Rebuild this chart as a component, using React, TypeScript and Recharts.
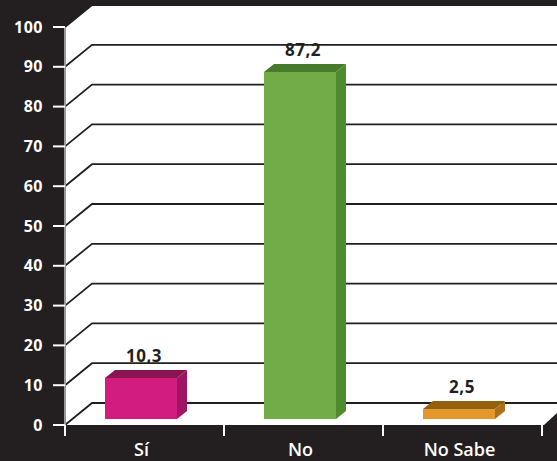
import React from "react";
import { BarChart, Bar, XAxis, YAxis, CartesianGrid, LabelList } from "recharts";

// values
const categories = ["Sí", "No", "No Sabe"];
const values = [10.3, 87.2, 2.5];
const yTicks = [0, 10, 20, 30, 40, 50, 60, 70, 80, 90, 100];

const frontColors = ["#d21c80", "#72ac46", "#e4982b"];
const topColors = ["#8a1352", "#477a2a", "#93600f"];
const sideColors = ["#a01563", "#4f8a31", "#ad6e1a"];

const W = 557;
const H = 461;
const LEFT = 65;
const TOP = 27;
const RIGHT = 15;
const BOTTOM = 36;
const PLOT_W = W - LEFT - RIGHT;
const PLOT_H = H - TOP - BOTTOM;
const BAND = PLOT_W / categories.length;

// 3D offsets
const DX = 27;
const DY = 22;
const BAR_DX = 10;
const BAR_DY = 8;
const BAR_LIFT = 6;
const BAR_SHIFT = -4;

const BG = "#231f20";
const FONT = "'Open Sans', 'Noto Sans', sans-serif";

const data = categories.map((name, i) => ({ name, value: values[i], ci: i }));

const Bar3D = (props: any) => {
  const { x, y, width, height, payload } = props;
  const ci = payload.ci;
  const x0 = x + BAR_SHIFT;
  const y0 = y - BAR_LIFT;
  const x1 = x0 + width;
  const y1 = y0 + height;
  return (
    <g>
      <polygon
        points={`${x0},${y0} ${x0 + BAR_DX},${y0 - BAR_DY} ${x1 + BAR_DX},${y0 - BAR_DY} ${x1},${y0}`}
        fill={topColors[ci]}
      />
      <polygon
        points={`${x1},${y0} ${x1 + BAR_DX},${y0 - BAR_DY} ${x1 + BAR_DX},${y1 - BAR_DY} ${x1},${y1}`}
        fill={sideColors[ci]}
      />
      <rect x={x0} y={y0} width={width} height={height} fill={frontColors[ci]} />
    </g>
  );
};

const BarValue = (props: any) => {
  const { x, y, width, value } = props;
  return (
    <text
      x={x + BAR_SHIFT + width / 2 + 3}
      y={y - BAR_LIFT - BAR_DY - 8}
      textAnchor="middle"
      fill={BG}
      fontSize={17}
      fontWeight={700}
      fontFamily={FONT}
      letterSpacing={0.5}
    >
      {String(value).replace(".", ",")}
    </text>
  );
};

const GridLine = (props: any) => {
  const { x1, y1, index } = props;
  return (
    <polyline
      key={`g-${index}-${y1}`}
      points={`${x1},${y1} ${x1 + DX},${y1 - DY} ${W},${y1 - DY}`}
      fill="none"
      stroke={BG}
      strokeWidth={1.8}
    />
  );
};

const YTick = (props: any) => {
  const { y, payload } = props;
  return (
    <g>
      <line x1={LEFT - 12} x2={LEFT} y1={y} y2={y} stroke="#fff" strokeWidth={2} />
      <text
        x={43}
        y={y}
        dy="0.35em"
        textAnchor="end"
        fill="#fff"
        fontSize={16}
        fontWeight={700}
        fontFamily={FONT}
        letterSpacing={0.5}
      >
        {payload.value}
      </text>
    </g>
  );
};

const XTick = (props: any) => {
  const { x, payload, index } = props;
  const yb = TOP + PLOT_H;
  const left = x - BAND / 2;
  return (
    <g>
      <line x1={left} x2={left} y1={yb} y2={yb + 11} stroke="#fff" strokeWidth={2} />
      {index === categories.length - 1 && (
        <line x1={x + BAND / 2} x2={x + BAND / 2} y1={yb} y2={yb + 11} stroke="#fff" strokeWidth={2} />
      )}
      <text
        x={x - 3}
        y={yb + 31}
        textAnchor="middle"
        fill="#fff"
        fontSize={18}
        fontWeight={600}
        fontFamily={FONT}
      >
        {payload.value}
      </text>
    </g>
  );
};

export default function App() {
  const yb = TOP + PLOT_H;
  const xr = LEFT + PLOT_W;
  const wall = `${LEFT},${TOP} ${LEFT + DX},${TOP - DY} ${W},${TOP - DY} ${W},${yb - 12} ${xr + 2},${yb} ${LEFT},${yb}`;
  return (
    <div style={{ position: "absolute", left: 0, top: 0, width: W, height: H, background: BG }}>
      <svg width={W} height={H} style={{ position: "absolute", left: 0, top: 0 }}>
        <polygon points={wall} fill="#fff" />
      </svg>
      <div style={{ position: "absolute", left: 0, top: 0 }}>
        <BarChart
          width={W}
          height={H}
          data={data}
          margin={{ top: TOP, right: RIGHT, bottom: 0, left: 0 }}
          barCategoryGap={0}
        >
          <CartesianGrid vertical={false} horizontal={GridLine} />
          <XAxis
            dataKey="name"
            height={BOTTOM}
            axisLine={false}
            tickLine={false}
            tick={XTick}
            interval={0}
          />
          <YAxis
            width={LEFT}
            domain={[0, 100]}
            ticks={yTicks}
            interval={0}
            axisLine={{ stroke: "#9a9a9a", strokeWidth: 2 }}
            tickLine={false}
            tick={YTick}
          />
          <Bar dataKey="value" barSize={72} shape={Bar3D} isAnimationActive={false}>
            <LabelList dataKey="value" content={BarValue} />
          </Bar>
        </BarChart>
      </div>
    </div>
  );
}
